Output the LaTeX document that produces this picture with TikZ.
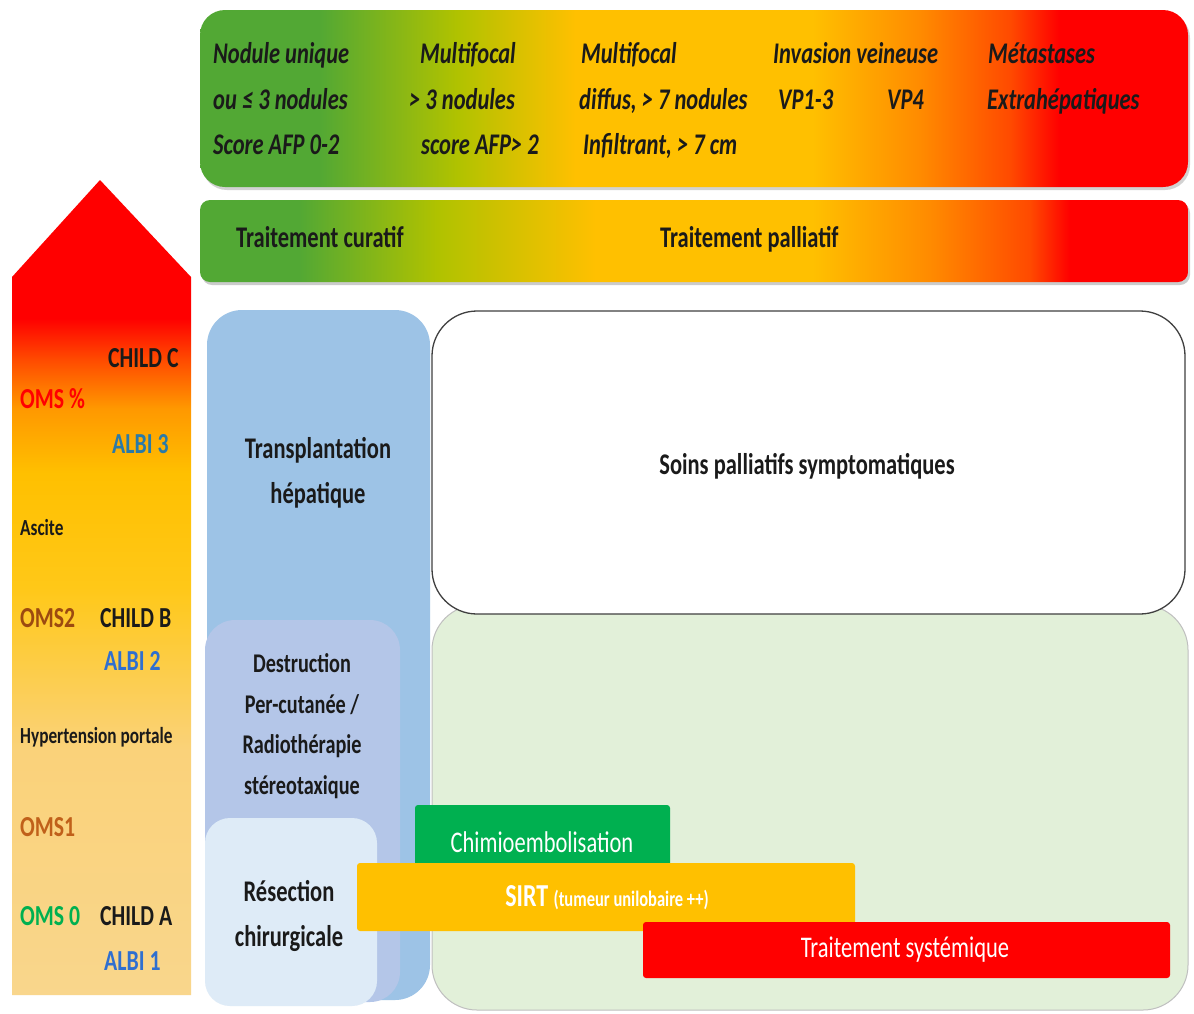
\documentclass[tikz,border=0pt]{standalone}
\usepackage{fontspec}
\setmainfont{Carlito}[FakeStretch=0.75]
\definecolor{cgreen}{HTML}{52A834}
\definecolor{cyg}{HTML}{B0C200}
\definecolor{camber}{HTML}{FFC000}
\definecolor{corange}{HTML}{FF8A00}
\definecolor{cred}{HTML}{FF0000}
\definecolor{cpk}{HTML}{F9D68C}
\definecolor{cpk2}{HTML}{FAD27A}
\definecolor{cyel}{HTML}{FFC818}
\definecolor{cor2}{HTML}{FF9800}
\definecolor{cor3}{HTML}{FF4A00}
\definecolor{tblue}{HTML}{9DC3E6}
\definecolor{lav}{HTML}{B4C6E8}
\definecolor{lblue}{HTML}{DEEBF7}
\definecolor{lgreen}{HTML}{E2F0D9}
\definecolor{chgreen}{HTML}{00B050}
\definecolor{albi}{HTML}{2F6FD0}
\definecolor{albiteal}{HTML}{2A7AA8}
\definecolor{omsbrown}{HTML}{9C4A10}
\definecolor{omsone}{HTML}{C0601A}
\definecolor{ink}{HTML}{1A1A1A}
\pgfdeclarehorizontalshading{barshade}{100bp}{color(0bp)=(cgreen); color(25bp)=(cgreen); color(31bp)=(cgreen); color(38bp)=(cyg); color(44bp)=(camber); color(56bp)=(camber); color(61.5bp)=(corange); color(66bp)=(cor3); color(68.5bp)=(cred); color(75bp)=(cred); color(100bp)=(cred)}
\pgfdeclarehorizontalshading{barshadeb}{100bp}{color(0bp)=(cgreen); color(25bp)=(cgreen); color(30bp)=(cgreen); color(37bp)=(cyg); color(45bp)=(camber); color(56bp)=(camber); color(62bp)=(corange); color(67bp)=(cor3); color(69bp)=(cred); color(75bp)=(cred); color(100bp)=(cred)}
\pgfdeclareverticalshading{arrowshade}{100bp}{color(0bp)=(cpk); color(25bp)=(cpk); color(40bp)=(cpk2); color(50bp)=(cyel); color(57bp)=(camber); color(61bp)=(cor2); color(64bp)=(cor3); color(66.5bp)=(cred); color(75bp)=(cred); color(100bp)=(cred)}
\begin{document}
\begin{tikzpicture}[x=1pt,y=-1pt,
  toptxt/.style={anchor=base west, inner sep=0pt, text=ink, font=\fontsize{30}{34}\selectfont\bfseries\itshape},
  bartxt/.style={anchor=base west, inner sep=0pt, text=ink, font=\fontsize{30}{36}\selectfont\bfseries},
  lbl/.style={anchor=base west, inner sep=0pt, font=\fontsize{29}{34}\selectfont\bfseries},
  smlbl/.style={anchor=base west, inner sep=0pt, text=ink, font=\fontsize{23}{28}\selectfont\bfseries},
  boxtxt/.style={align=center, inner sep=0pt, text=ink, font=\fontsize{30}{45}\selectfont\bfseries},
  bandtxt/.style={inner sep=0pt, text=white, font=\fontsize{30}{36}\selectfont}
]
\useasboundingbox (0,0) rectangle (1194,1013);
\fill[white] (0,0) rectangle (1194,1013);

% top bars
\fill[black!35, opacity=.5, rounded corners=25] (202,13) rectangle (1190,190);
\shade[shading=barshade, rounded corners=25] (200,10) rectangle (1188,187);
\fill[black!40, opacity=.5, rounded corners=10] (202,203) rectangle (1190,285);
\shade[shading=barshadeb, rounded corners=10] (200,200) rectangle (1188,282);

\node[toptxt] (t11) at (213,63) {Nodule unique};
\node[toptxt] (t12) at (213,109) {ou ≤ 3 nodules};
\node[toptxt] (t13) at (213,154) {Score AFP 0-2};
\node[toptxt] (t21) at (420,63) {Multifocal};
\node[toptxt] (t22) at (409,109) {> 3 nodules};
\node[toptxt] (t23) at (421,154) {score AFP> 2};
\node[toptxt] (t31) at (581,63) {Multifocal};
\node[toptxt] (t32) at (579,109) {diffus, > 7 nodules};
\node[toptxt] (t33) at (583,154) {Infiltrant, > 7 cm};
\node[toptxt] (t41) at (773,63) {Invasion veineuse};
\node[toptxt] (t42) at (778,109) {VP1-3};
\node[toptxt] (t43) at (887,109) {VP4};
\node[toptxt] (t51) at (988,63) {Métastases};
\node[toptxt] (t52) at (987,109) {Extrahépatiques};

\node[bartxt] (cur) at (236,247) {Traitement curatif};
\node[bartxt] (pal) at (660,247) {Traitement palliatif};

% left arrow
\shade[shading=arrowshade] (12,995) -- (12,277) -- (100,180) -- (191,277) -- (191,995) -- cycle;

\node[lbl, text=ink] (cc) at (108,367) {CHILD C};
\node[lbl, text=cred] (o34) at (20,408) {OMS \%};
\node[lbl, text=albiteal] (a3) at (112,453) {ALBI 3};
\node[smlbl] (asc) at (20,535) {Ascite};
\node[lbl, text=omsbrown] (o2) at (20,627) {OMS2};
\node[lbl, text=ink] (cb) at (100,627) {CHILD B};
\node[lbl, text=albi] (a2) at (104,670) {ALBI 2};
\node[smlbl] (hp) at (20,743) {Hypertension portale};
\node[lbl, text=omsone] (o1) at (20,836) {OMS1};
\node[lbl, text=chgreen] (o0) at (20,925) {OMS 0};
\node[lbl, text=ink] (ca) at (100,925) {CHILD A};
\node[lbl, text=albi] (a1) at (104,970) {ALBI 1};

% right panels
\filldraw[fill=lgreen, draw=black!25, line width=1, rounded corners=45] (432,605) rectangle (1188,1010);
\filldraw[fill=white, draw=black!75, line width=1.3, rounded corners=45] (432,311) rectangle (1185,614);
\node[boxtxt] (soins) at (807,466) {Soins palliatifs symptomatiques};

% left treatment boxes
\fill[tblue, rounded corners=35] (207,310) rectangle (430,1000);
\fill[lav, rounded corners=30] (205,620) rectangle (400,1002);
\fill[lblue, rounded corners=25] (205,818) rectangle (377,1006);

\node[boxtxt] (tr) at (318,473) {Transplantation\\hépatique};
\node[boxtxt, font=\fontsize{27}{40.5}\selectfont\bfseries] (de) at (302,726) {Destruction\\Per-cutanée /\\Radiothérapie\\stéreotaxique};
\node[boxtxt] (re) at (289,916) {Résection\\chirurgicale};

% bands
\fill[chgreen, rounded corners=3] (415,805) rectangle (670,866);
\fill[camber, rounded corners=3] (357,863) rectangle (855,931);
\fill[cred, rounded corners=3] (643,922) rectangle (1170,978);

\node[bandtxt] (ch) at (542,842) {Chimioembolisation};
\node[bandtxt, font=\fontsize{32}{36}\selectfont\bfseries] (si) at (607,898) {SIRT {\fontsize{22}{26}\selectfont (tumeur unilobaire ++)}};
\node[bandtxt] (sy) at (905,950) {Traitement systémique};
\end{tikzpicture}
\end{document}
